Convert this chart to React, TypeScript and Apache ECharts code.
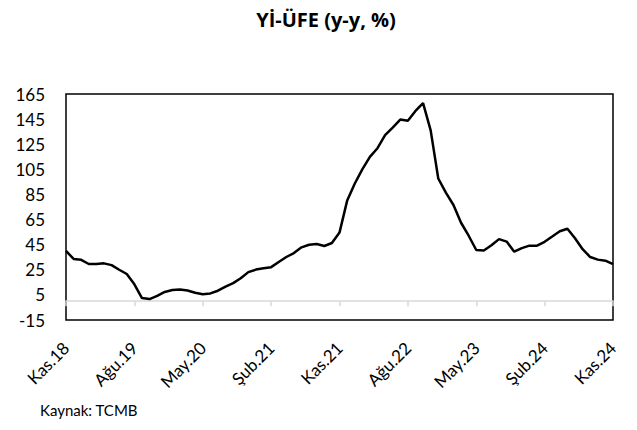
import React, { useEffect, useRef } from "react";
import * as echarts from "echarts";

const monthNames = ["Oca", "Şub", "Mar", "Nis", "May", "Haz", "Tem", "Ağu", "Eyl", "Eki", "Kas", "Ara"];
const years = [18, 19, 20, 21, 22, 23, 24];

// Yİ-ÜFE annual change (%), Kas.18 - Kas.24
const values2018 = [40.0, 33.64];
const values2019 = [32.93, 29.59, 29.64, 30.12, 28.71, 25.04, 21.66, 13.45, 2.45, 1.7, 4.26, 7.36];
const values2020 = [8.84, 9.26, 8.5, 6.71, 5.53, 6.17, 8.33, 11.53, 14.33, 18.2, 23.11, 25.15];
const values2021 = [26.16, 27.09, 31.2, 35.17, 38.33, 42.89, 44.92, 45.52, 43.96, 46.31, 54.62, 79.89];
const values2022 = [93.53, 105.01, 114.97, 121.82, 132.16, 138.31, 144.61, 143.75, 151.5, 157.69, 136.02, 97.72];
const values2023 = [86.46, 76.61, 62.46, 52.11, 40.76, 40.42, 44.5, 49.41, 47.44, 39.39, 42.25, 44.22];
const values2024 = [44.2, 47.29, 51.47, 55.66, 57.68, 50.09, 41.37, 35.17, 33.09, 32.24, 29.47];

const values = [...values2018, ...values2019, ...values2020, ...values2021, ...values2022, ...values2023, ...values2024];

const categories: string[] = [];
for (const y of years) {
  for (let m = 0; m < 12; m++) {
    if (y === 18 && m < 10) continue;
    if (y === 24 && m > 10) continue;
    categories.push(`${monthNames[m]}.${y}`);
  }
}

const yMin = -15;
const yMax = 165;
const yStep = 20;

const title = "Yİ-ÜFE (y-y, %)";
const source = "Kaynak: TCMB";

export default function App() {
  const ref = useRef<HTMLDivElement>(null);
  useEffect(() => {
    if (!ref.current) return;
    const chart = echarts.init(ref.current, null, { renderer: "svg" });
    const font = "Lato, 'Open Sans', sans-serif";
    chart.setOption({
      animation: false,
      backgroundColor: "#ffffff",
      graphic: [
        {
          type: "text",
          x: 326,
          y: 19,
          style: {
            text: title,
            font: `bold 20px 'Open Sans', sans-serif`,
            fill: "#000",
            textAlign: "center",
            textVerticalAlign: "middle",
          },
        },
        {
          type: "text",
          left: 40,
          top: 402,
          style: { text: source, font: `15px ${font}`, fill: "#000" },
        },
      ],
      grid: {
        left: 66,
        right: 24,
        top: 94,
        bottom: 110,
        show: true,
        borderColor: "#000",
        borderWidth: 1.5,
        containLabel: false,
      },
      xAxis: {
        type: "category",
        data: categories,
        boundaryGap: false,
        axisLine: { onZero: true, lineStyle: { color: "#d9d9d9", width: 1.5 } },
        axisTick: { show: true, interval: 8, length: 5, lineStyle: { color: "#d9d9d9", width: 1.5 } },
        axisLabel: {
          interval: 8,
          rotate: 45,
          margin: 25,
          color: "#000",
          fontSize: 17,
          fontFamily: font,
        },
        splitLine: { show: false },
      },
      yAxis: {
        type: "value",
        min: yMin,
        max: yMax,
        interval: yStep,
        axisLine: { show: false },
        axisTick: { show: false },
        splitLine: { show: false },
        axisLabel: { color: "#000", fontSize: 17, fontFamily: font, margin: 21 },
      },
      series: [
        {
          type: "line",
          data: values,
          symbol: "none",
          lineStyle: { color: "#000", width: 2.5 },
          itemStyle: { color: "#000" },
        },
      ],
    });
    return () => chart.dispose();
  }, []);
  return <div ref={ref} style={{ position: "fixed", left: 0, top: 0, width: 637, height: 430 }} />;
}
